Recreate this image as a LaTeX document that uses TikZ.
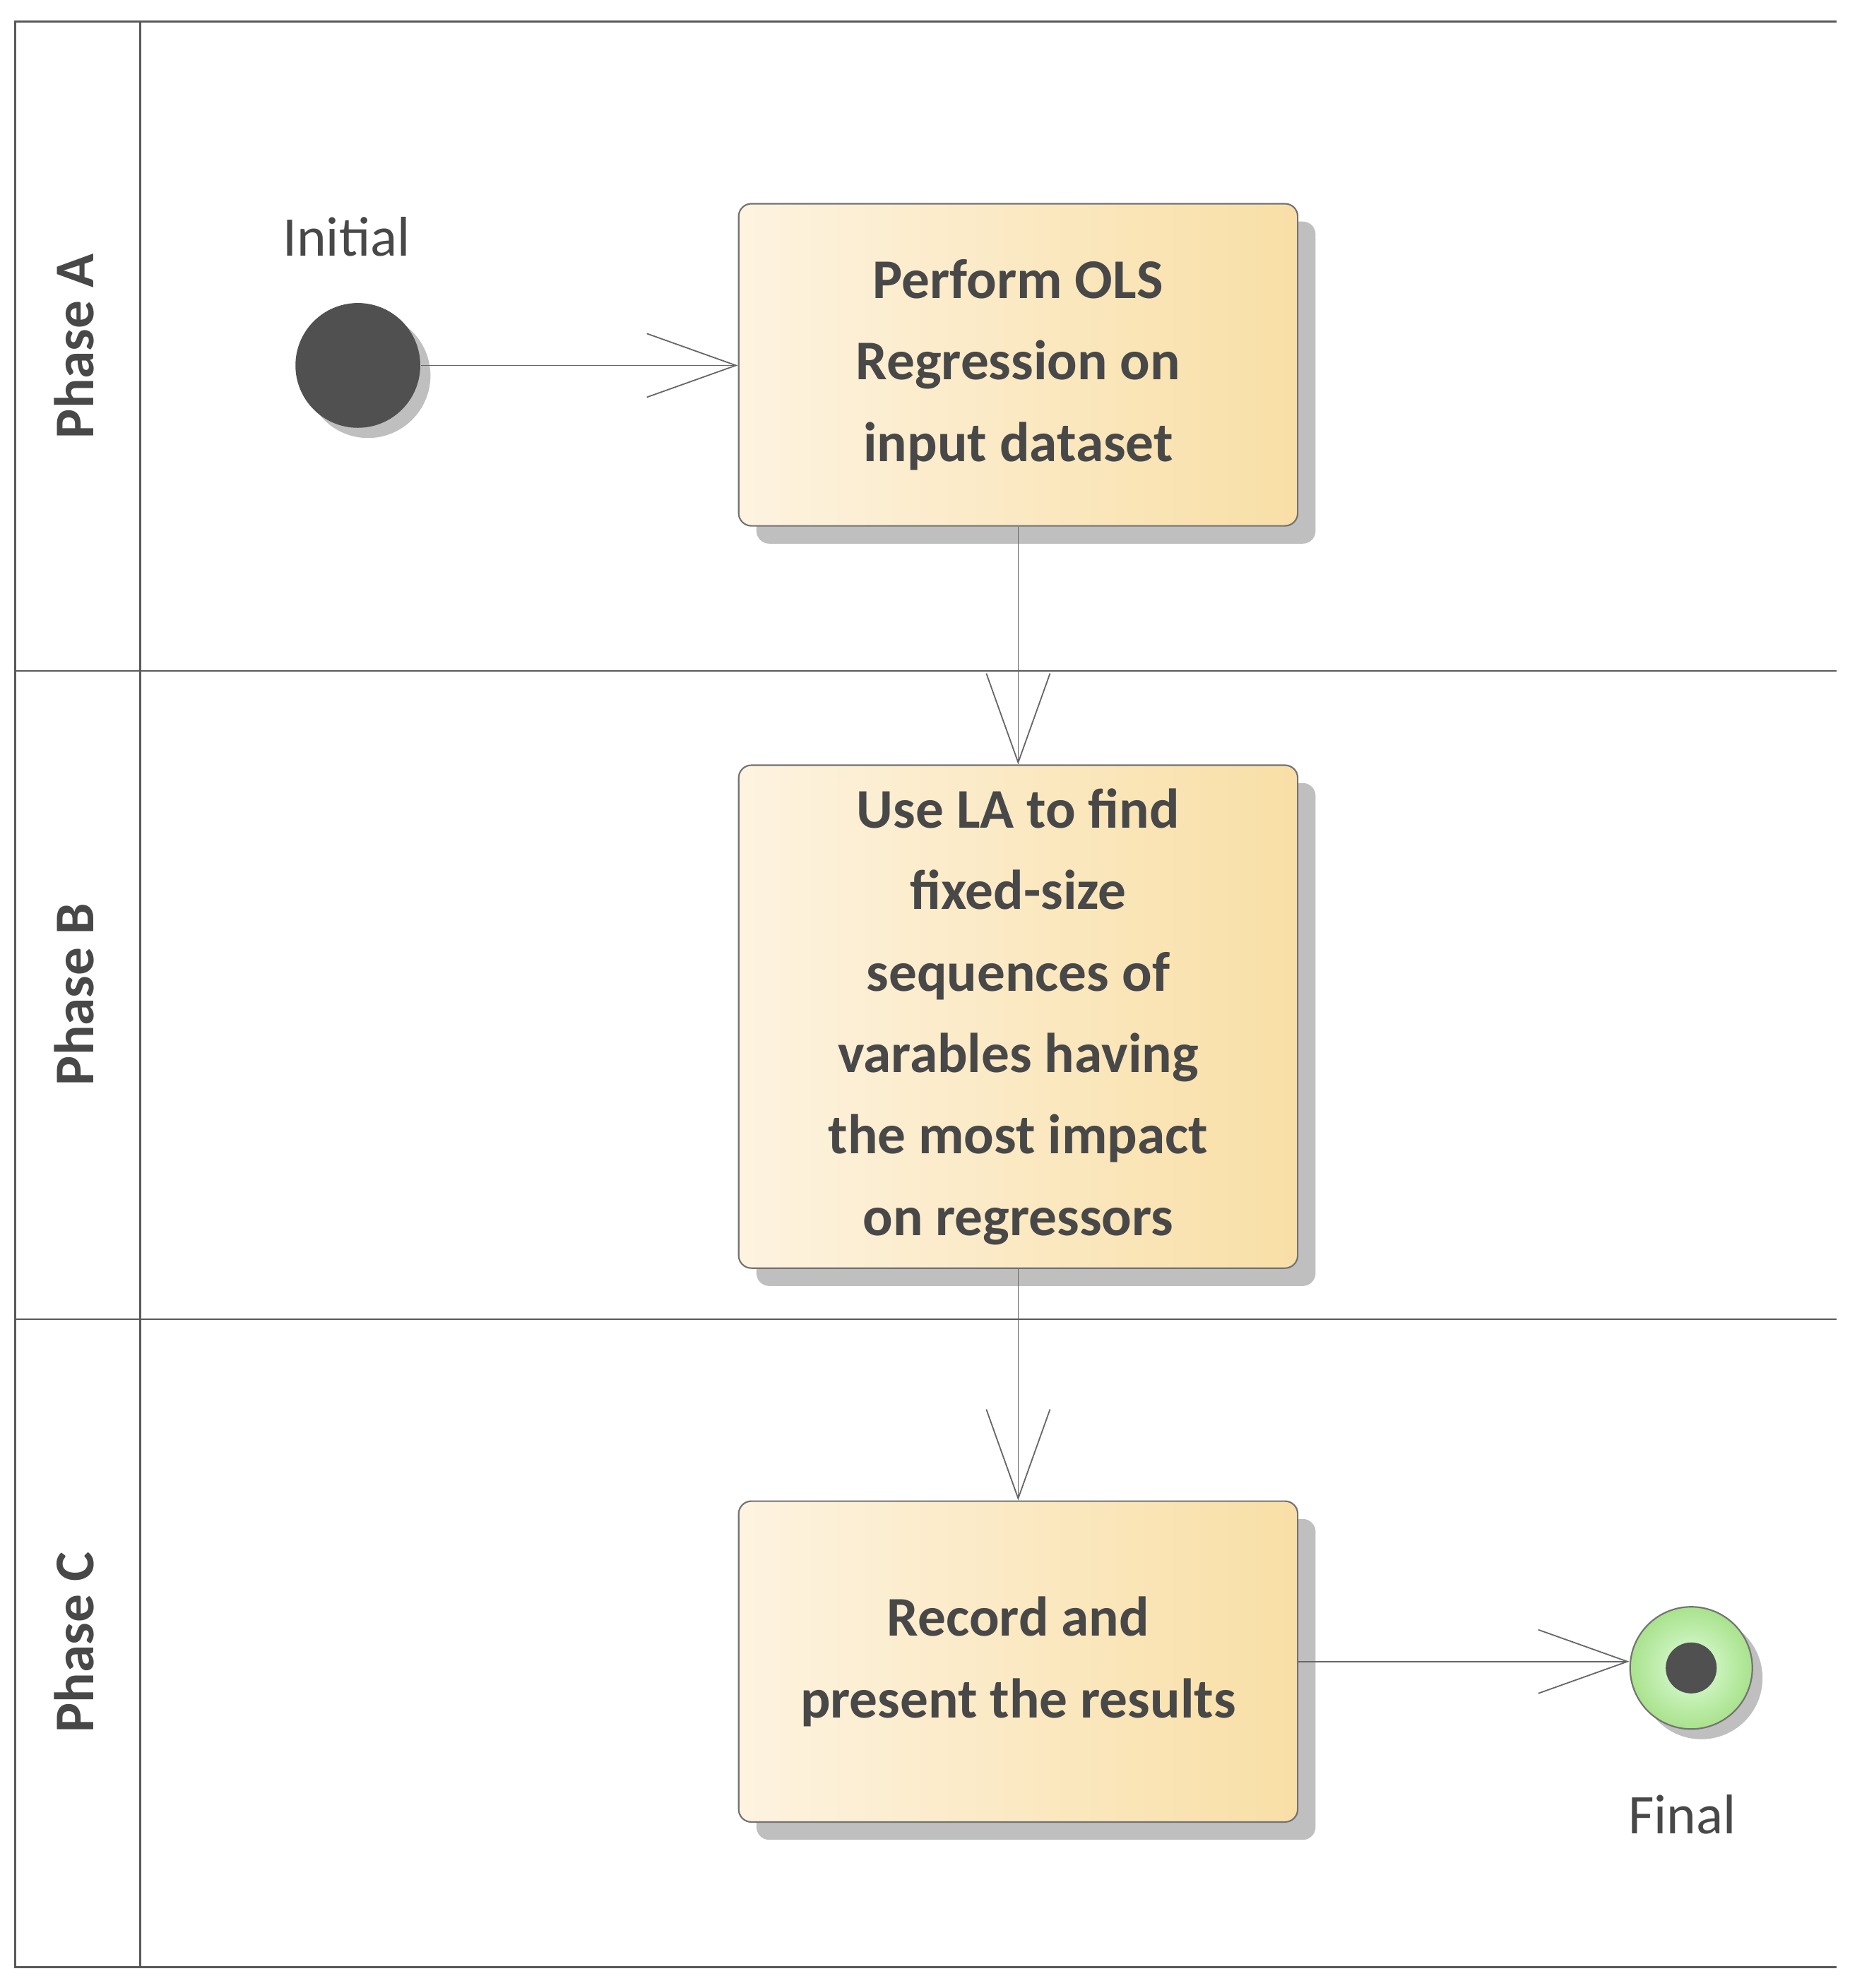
\documentclass[tikz,border=0pt]{standalone}
\usepackage{fontspec}
\setmainfont{Carlito}
\usetikzlibrary{arrows.meta,shadows}
\definecolor{boxl}{HTML}{FDF3E0}
\definecolor{boxr}{HTML}{F9DFA6}
\definecolor{dark}{HTML}{505050}
\begin{document}
\begin{tikzpicture}[x=0.5pt,y=-0.5pt,
  act/.style={draw=dark!80,line width=0.6pt,rounded corners=5pt,left color=boxl,right color=boxr,
    minimum width=219.5pt,align=center,font=\bfseries\fontsize{22}{32}\selectfont,text=dark!90!black,
    drop shadow={shadow xshift=7pt,shadow yshift=-7pt,fill=black!25,opacity=1}},
  lane/.style={draw=black!65,line width=0.7pt},
  flow/.style={draw=black!60,line width=0.5pt,-{Straight Barb[open,length=35pt,width=25pt,line width=0.5pt]}},
  lbl/.style={font=\fontsize{22}{26}\selectfont,text=dark!90!black},
  ph/.style={font=\bfseries\fontsize{22}{26}\selectfont,text=dark!90!black,rotate=90}]
\useasboundingbox (0,0) rectangle (1462,1561.4);
\draw[lane] (1442,17) -- (12,17) -- (12,1545) -- (1442,1545);
\draw[lane] (110,17) -- (110,1545);
\draw[lane] (12,527) -- (1442,527);
\draw[lane] (12,1036) -- (1442,1036);
\node[ph] (pa) at (58,272) {Phase A};
\node[ph] (pb) at (58,781) {Phase B};
\node[ph] (pc) at (58,1290) {Phase C};
\node[circle,fill=dark,minimum size=49pt,inner sep=0pt,
  drop shadow={shadow xshift=4pt,shadow yshift=-4pt,fill=black!25,opacity=1}] (init) at (281,287) {};
\node[lbl] (il) at (272,186) {Initial};
\node[act,minimum height=126.5pt] (a) at (799.5,286.5) {Perform OLS\\Regression on\\input dataset};
\node[act,minimum height=197.5pt] (b) at (799.5,798.5) {Use LA to find\\fixed-size\\sequences of\\varables having\\the most impact\\on regressors};
\node[act,minimum height=126pt] (c) at (799.5,1305) {Record and\\present the results};
\node[circle,draw=black!55,line width=0.6pt,inner color=boxl!40!green!20,outer color=green!50!olive!45,minimum size=48pt,inner sep=0pt,
  drop shadow={shadow xshift=4pt,shadow yshift=-4pt,fill=black!25,opacity=1}] (fin) at (1328,1310) {};
\node[circle,fill=dark,minimum size=20pt,inner sep=0pt] (fdot) at (fin.center) {};
\node[lbl] (fl) at (1321,1425) {Final};
\draw[flow] (init.east) -- (a.west |- init.east);
\draw[flow] (a.south) -- (b.north);
\draw[flow] (b.south) -- (c.north);
\draw[flow] (c.east |- 0,1305) -- (fin.west |- 0,1305);
\end{tikzpicture}
\end{document}
